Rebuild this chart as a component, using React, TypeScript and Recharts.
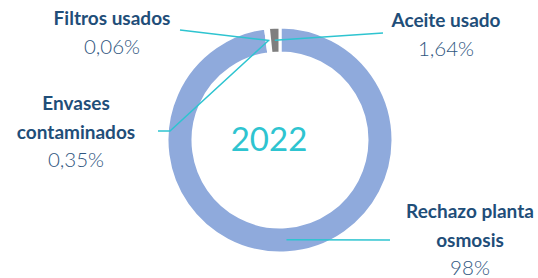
import React from 'react';
import { PieChart, Pie, Cell, Label } from 'recharts';

// Residuos 2022 — reparto en %
const NAMES = ['Rechazo planta osmosis', 'Envases contaminados', 'Filtros usados', 'Aceite usado'];
const VALUES = [98, 0.35, 0.06, 1.64];
const PCT_LABELS = ['98%', '0,35%', '0,06%', '1,64%'];
const NAME_LINES = [['Rechazo planta', 'osmosis'], ['Envases', 'contaminados'], ['Filtros usados'], ['Aceite usado']];
const COLORS = ['#8FAADC', '#A5A5A5', '#FFC000', '#7F7F7F'];
const YEAR = '2022';

const data = NAMES.map((name, i) => ({ name, value: VALUES[i] }));

// posición de cada etiqueta (centro del texto, primera línea base) y codos de la línea guía
const LABEL_LAYOUT = [
  { tx: 470, ty: 218, pts: [[390, 240]] },
  { tx: 76, ty: 110, pts: [[170, 131], [158, 131]] },
  { tx: 112, ty: 25, pts: [[180, 30]] },
  { tx: 446, ty: 27, pts: [[383, 33]] },
];

const FONT = 'Lato, "Open Sans", sans-serif';
const LINE_H = 28.5;
const RAD = Math.PI / 180;

function renderLabel(props: any) {
  const { cx, cy, midAngle, innerRadius, outerRadius, index } = props;
  const lay = LABEL_LAYOUT[index];
  const r = (innerRadius + outerRadius) / 2;
  const ax = cx + r * Math.cos(-midAngle * RAD);
  const ay = cy + r * Math.sin(-midAngle * RAD);
  const path = [[ax, ay], ...lay.pts].map((p, i) => `${i ? 'L' : 'M'}${p[0]},${p[1]}`).join(' ');
  const lines = NAME_LINES[index];
  return (
    <g key={`lbl-${index}`}>
      <path d={path} stroke="#2EC4D0" strokeWidth={1.5} fill="none" />
      <text textAnchor="middle" fontFamily={FONT}>
        {lines.map((t, i) => (
          <tspan key={i} x={lay.tx} y={lay.ty + i * LINE_H} fill="#1F4E79" fontWeight={700} fontSize={19}>
            {t}
          </tspan>
        ))}
        <tspan x={lay.tx} y={lay.ty + lines.length * LINE_H} fill="#2F5680" fontWeight={300} fontSize={20.5}>
          {PCT_LABELS[index]}
        </tspan>
      </text>
    </g>
  );
}

export default function App() {
  return (
    <div style={{ position: 'absolute', left: 0, top: 0, width: 538, height: 278, background: '#fff' }}>
      <PieChart width={538} height={278}>
        <Pie
          data={data}
          dataKey="value"
          nameKey="name"
          cx={275}
          cy={135}
          innerRadius={87}
          outerRadius={113}
          startAngle={90}
          endAngle={-270}
          stroke="#fff"
          strokeWidth={3}
          label={renderLabel}
          labelLine={false}
          isAnimationActive={false}
        >
          {data.map((d, i) => (
            <Cell key={d.name} fill={COLORS[i]} />
          ))}
          <Label
            value={YEAR}
            position="center"
            fill="#2EC4D0"
            fontSize={33}
            fontFamily={FONT}
          />
        </Pie>
      </PieChart>
    </div>
  );
}
